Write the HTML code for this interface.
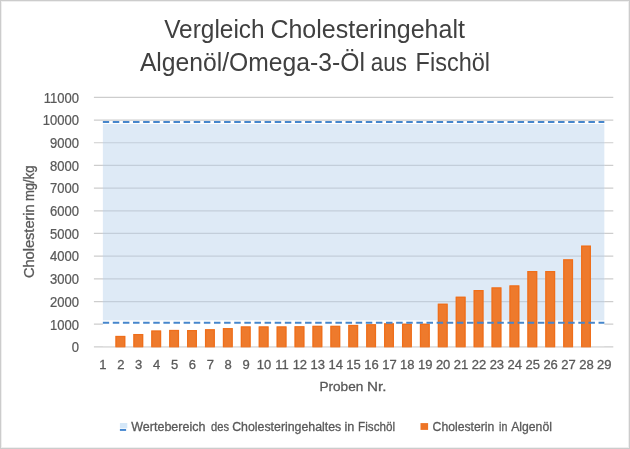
<!DOCTYPE html><html><head><meta charset="utf-8"><style>html,body{margin:0;padding:0;background:#fff;width:630px;height:449px;overflow:hidden}svg{display:block;will-change:transform;font-family:"Liberation Sans",sans-serif}</style></head><body>
<svg width="630" height="449" viewBox="0 0 630 449">
<rect x="0" y="0" width="630" height="449" fill="#fff"/>
<rect x="0.5" y="0.5" width="629" height="448" fill="none" stroke="#CCCCCC" stroke-width="1"/>
<rect x="1.5" y="1.5" width="627" height="446" fill="none" stroke="#EFEFEF" stroke-width="1"/>
<line x1="93.90" y1="346.90" x2="613.29" y2="346.90" stroke="#CDCDCD" stroke-width="1.2"/>
<line x1="93.90" y1="324.21" x2="613.29" y2="324.21" stroke="#CDCDCD" stroke-width="1.2"/>
<line x1="93.90" y1="301.53" x2="613.29" y2="301.53" stroke="#CDCDCD" stroke-width="1.2"/>
<line x1="93.90" y1="278.84" x2="613.29" y2="278.84" stroke="#CDCDCD" stroke-width="1.2"/>
<line x1="93.90" y1="256.16" x2="613.29" y2="256.16" stroke="#CDCDCD" stroke-width="1.2"/>
<line x1="93.90" y1="233.47" x2="613.29" y2="233.47" stroke="#CDCDCD" stroke-width="1.2"/>
<line x1="93.90" y1="210.79" x2="613.29" y2="210.79" stroke="#CDCDCD" stroke-width="1.2"/>
<line x1="93.90" y1="188.10" x2="613.29" y2="188.10" stroke="#CDCDCD" stroke-width="1.2"/>
<line x1="93.90" y1="165.42" x2="613.29" y2="165.42" stroke="#CDCDCD" stroke-width="1.2"/>
<line x1="93.90" y1="142.73" x2="613.29" y2="142.73" stroke="#CDCDCD" stroke-width="1.2"/>
<line x1="93.90" y1="120.05" x2="613.29" y2="120.05" stroke="#CDCDCD" stroke-width="1.2"/>
<line x1="93.90" y1="97.36" x2="613.29" y2="97.36" stroke="#CDCDCD" stroke-width="1.2"/>
<rect x="102.86" y="124.00" width="501.48" height="196.60" fill="#DEEAF6"/>
<rect x="102.86" y="320.60" width="501.48" height="25.60" fill="#FFFFFF"/>
<line x1="102.86" y1="301.53" x2="604.34" y2="301.53" stroke="#C3CEDA" stroke-width="1.2"/>
<line x1="102.86" y1="278.84" x2="604.34" y2="278.84" stroke="#C3CEDA" stroke-width="1.2"/>
<line x1="102.86" y1="256.16" x2="604.34" y2="256.16" stroke="#C3CEDA" stroke-width="1.2"/>
<line x1="102.86" y1="233.47" x2="604.34" y2="233.47" stroke="#C3CEDA" stroke-width="1.2"/>
<line x1="102.86" y1="210.79" x2="604.34" y2="210.79" stroke="#C3CEDA" stroke-width="1.2"/>
<line x1="102.86" y1="188.10" x2="604.34" y2="188.10" stroke="#C3CEDA" stroke-width="1.2"/>
<line x1="102.86" y1="165.42" x2="604.34" y2="165.42" stroke="#C3CEDA" stroke-width="1.2"/>
<line x1="102.86" y1="142.73" x2="604.34" y2="142.73" stroke="#C3CEDA" stroke-width="1.2"/>
<rect x="115.42" y="335.90" width="9.9" height="11.00" fill="#EE7A2C"/>
<rect x="116.02" y="336.50" width="8.70" height="10.40" fill="none" stroke="#F06A12" stroke-width="1.2" stroke-opacity="0.7"/>
<rect x="133.33" y="333.99" width="9.9" height="12.91" fill="#EE7A2C"/>
<rect x="133.93" y="334.59" width="8.70" height="12.31" fill="none" stroke="#F06A12" stroke-width="1.2" stroke-opacity="0.7"/>
<rect x="151.24" y="330.50" width="9.9" height="16.40" fill="#EE7A2C"/>
<rect x="151.84" y="331.10" width="8.70" height="15.80" fill="none" stroke="#F06A12" stroke-width="1.2" stroke-opacity="0.7"/>
<rect x="169.15" y="329.91" width="9.9" height="16.99" fill="#EE7A2C"/>
<rect x="169.75" y="330.51" width="8.70" height="16.39" fill="none" stroke="#F06A12" stroke-width="1.2" stroke-opacity="0.7"/>
<rect x="187.06" y="330.00" width="9.9" height="16.90" fill="#EE7A2C"/>
<rect x="187.66" y="330.60" width="8.70" height="16.30" fill="none" stroke="#F06A12" stroke-width="1.2" stroke-opacity="0.7"/>
<rect x="204.97" y="329.21" width="9.9" height="17.69" fill="#EE7A2C"/>
<rect x="205.56" y="329.81" width="8.70" height="17.09" fill="none" stroke="#F06A12" stroke-width="1.2" stroke-opacity="0.7"/>
<rect x="222.88" y="328.09" width="9.9" height="18.81" fill="#EE7A2C"/>
<rect x="223.47" y="328.69" width="8.70" height="18.21" fill="none" stroke="#F06A12" stroke-width="1.2" stroke-opacity="0.7"/>
<rect x="240.79" y="326.39" width="9.9" height="20.51" fill="#EE7A2C"/>
<rect x="241.39" y="326.99" width="8.70" height="19.91" fill="none" stroke="#F06A12" stroke-width="1.2" stroke-opacity="0.7"/>
<rect x="258.70" y="326.39" width="9.9" height="20.51" fill="#EE7A2C"/>
<rect x="259.30" y="326.99" width="8.70" height="19.91" fill="none" stroke="#F06A12" stroke-width="1.2" stroke-opacity="0.7"/>
<rect x="276.61" y="326.39" width="9.9" height="20.51" fill="#EE7A2C"/>
<rect x="277.21" y="326.99" width="8.70" height="19.91" fill="none" stroke="#F06A12" stroke-width="1.2" stroke-opacity="0.7"/>
<rect x="294.52" y="326.21" width="9.9" height="20.69" fill="#EE7A2C"/>
<rect x="295.12" y="326.81" width="8.70" height="20.09" fill="none" stroke="#F06A12" stroke-width="1.2" stroke-opacity="0.7"/>
<rect x="312.43" y="325.80" width="9.9" height="21.10" fill="#EE7A2C"/>
<rect x="313.03" y="326.40" width="8.70" height="20.50" fill="none" stroke="#F06A12" stroke-width="1.2" stroke-opacity="0.7"/>
<rect x="330.34" y="325.80" width="9.9" height="21.10" fill="#EE7A2C"/>
<rect x="330.94" y="326.40" width="8.70" height="20.50" fill="none" stroke="#F06A12" stroke-width="1.2" stroke-opacity="0.7"/>
<rect x="348.25" y="324.90" width="9.9" height="22.00" fill="#EE7A2C"/>
<rect x="348.85" y="325.50" width="8.70" height="21.40" fill="none" stroke="#F06A12" stroke-width="1.2" stroke-opacity="0.7"/>
<rect x="366.16" y="324.19" width="9.9" height="22.71" fill="#EE7A2C"/>
<rect x="366.76" y="324.79" width="8.70" height="22.11" fill="none" stroke="#F06A12" stroke-width="1.2" stroke-opacity="0.7"/>
<rect x="384.06" y="323.31" width="9.9" height="23.59" fill="#EE7A2C"/>
<rect x="384.67" y="323.91" width="8.70" height="22.99" fill="none" stroke="#F06A12" stroke-width="1.2" stroke-opacity="0.7"/>
<rect x="401.98" y="323.69" width="9.9" height="23.21" fill="#EE7A2C"/>
<rect x="402.58" y="324.29" width="8.70" height="22.61" fill="none" stroke="#F06A12" stroke-width="1.2" stroke-opacity="0.7"/>
<rect x="419.89" y="323.69" width="9.9" height="23.21" fill="#EE7A2C"/>
<rect x="420.49" y="324.29" width="8.70" height="22.61" fill="none" stroke="#F06A12" stroke-width="1.2" stroke-opacity="0.7"/>
<rect x="437.80" y="303.71" width="9.9" height="43.19" fill="#EE7A2C"/>
<rect x="438.40" y="304.31" width="8.70" height="42.59" fill="none" stroke="#F06A12" stroke-width="1.2" stroke-opacity="0.7"/>
<rect x="455.71" y="296.70" width="9.9" height="50.20" fill="#EE7A2C"/>
<rect x="456.31" y="297.30" width="8.70" height="49.60" fill="none" stroke="#F06A12" stroke-width="1.2" stroke-opacity="0.7"/>
<rect x="473.62" y="290.01" width="9.9" height="56.89" fill="#EE7A2C"/>
<rect x="474.22" y="290.61" width="8.70" height="56.29" fill="none" stroke="#F06A12" stroke-width="1.2" stroke-opacity="0.7"/>
<rect x="491.53" y="287.40" width="9.9" height="59.50" fill="#EE7A2C"/>
<rect x="492.13" y="288.00" width="8.70" height="58.90" fill="none" stroke="#F06A12" stroke-width="1.2" stroke-opacity="0.7"/>
<rect x="509.44" y="285.40" width="9.9" height="61.50" fill="#EE7A2C"/>
<rect x="510.04" y="286.00" width="8.70" height="60.90" fill="none" stroke="#F06A12" stroke-width="1.2" stroke-opacity="0.7"/>
<rect x="527.35" y="271.00" width="9.9" height="75.90" fill="#EE7A2C"/>
<rect x="527.95" y="271.60" width="8.70" height="75.30" fill="none" stroke="#F06A12" stroke-width="1.2" stroke-opacity="0.7"/>
<rect x="545.25" y="271.00" width="9.9" height="75.90" fill="#EE7A2C"/>
<rect x="545.86" y="271.60" width="8.70" height="75.30" fill="none" stroke="#F06A12" stroke-width="1.2" stroke-opacity="0.7"/>
<rect x="563.16" y="259.29" width="9.9" height="87.61" fill="#EE7A2C"/>
<rect x="563.76" y="259.89" width="8.70" height="87.01" fill="none" stroke="#F06A12" stroke-width="1.2" stroke-opacity="0.7"/>
<rect x="581.07" y="245.61" width="9.9" height="101.29" fill="#EE7A2C"/>
<rect x="581.67" y="246.21" width="8.70" height="100.69" fill="none" stroke="#F06A12" stroke-width="1.2" stroke-opacity="0.7"/>
<line x1="102.86" y1="122.00" x2="604.34" y2="122.00" stroke="#4686CC" stroke-width="2" stroke-dasharray="6.5 3.62" stroke-dashoffset="0.2"/>
<line x1="102.86" y1="322.70" x2="604.34" y2="322.70" stroke="#4686CC" stroke-width="2" stroke-dasharray="6.5 3.62" stroke-dashoffset="0.2"/>
<text x="164.20" y="38.20" font-size="25" fill="#404040" textLength="100.44" lengthAdjust="spacingAndGlyphs" >Vergleich</text>
<text x="270.40" y="38.20" font-size="25" fill="#404040" textLength="194.51" lengthAdjust="spacingAndGlyphs" >Cholesteringehalt</text>
<text x="139.90" y="70.60" font-size="25" fill="#404040" textLength="225.00" lengthAdjust="spacingAndGlyphs" >Algenöl/Omega-3-Öl</text>
<text x="370.80" y="70.60" font-size="25" fill="#404040" textLength="36.06" lengthAdjust="spacingAndGlyphs" >aus</text>
<text x="415.60" y="70.60" font-size="25" fill="#404040" textLength="74.38" lengthAdjust="spacingAndGlyphs" >Fischöl</text>
<text x="319.50" y="391.00" font-size="13" fill="#595959" textLength="43.74" lengthAdjust="spacingAndGlyphs" stroke="#595959" stroke-width="0.3">Proben</text>
<text x="367.00" y="391.00" font-size="13" fill="#595959" textLength="19.44" lengthAdjust="spacingAndGlyphs" stroke="#595959" stroke-width="0.3">Nr.</text>
<text x="131.30" y="430.60" font-size="12.5" fill="#595959" textLength="74.13" lengthAdjust="spacingAndGlyphs" stroke="#595959" stroke-width="0.3">Wertebereich</text>
<text x="211.00" y="430.60" font-size="12.5" fill="#595959" textLength="18.00" lengthAdjust="spacingAndGlyphs" stroke="#595959" stroke-width="0.3">des</text>
<text x="232.20" y="430.60" font-size="12.5" fill="#595959" textLength="109.10" lengthAdjust="spacingAndGlyphs" stroke="#595959" stroke-width="0.3">Cholesteringehaltes</text>
<text x="344.40" y="430.60" font-size="12.5" fill="#595959" textLength="9.87" lengthAdjust="spacingAndGlyphs" stroke="#595959" stroke-width="0.3">in</text>
<text x="358.10" y="430.60" font-size="12.5" fill="#595959" textLength="36.94" lengthAdjust="spacingAndGlyphs" stroke="#595959" stroke-width="0.3">Fischöl</text>
<text x="432.60" y="430.60" font-size="12.5" fill="#595959" textLength="61.75" lengthAdjust="spacingAndGlyphs" stroke="#595959" stroke-width="0.3">Cholesterin</text>
<text x="499.10" y="430.60" font-size="12.5" fill="#595959" textLength="8.25" lengthAdjust="spacingAndGlyphs" stroke="#595959" stroke-width="0.3">in</text>
<text x="511.20" y="430.60" font-size="12.5" fill="#595959" textLength="40.73" lengthAdjust="spacingAndGlyphs" stroke="#595959" stroke-width="0.3">Algenöl</text>
<text transform="translate(33.50,278.10) rotate(-90)" font-size="13.8" fill="#595959" textLength="73.82" lengthAdjust="spacingAndGlyphs" stroke="#595959" stroke-width="0.3">Cholesterin</text>
<text transform="translate(33.50,201.00) rotate(-90)" font-size="13.8" fill="#595959" textLength="35.53" lengthAdjust="spacingAndGlyphs" stroke="#595959" stroke-width="0.3">mg/kg</text>
<text transform="translate(78.9,352.20) scale(0.93,1)" font-size="14" fill="#595959" stroke="#595959" stroke-width="0.25" text-anchor="end">0</text>
<text transform="translate(78.9,329.51) scale(0.93,1)" font-size="14" fill="#595959" stroke="#595959" stroke-width="0.25" text-anchor="end">1000</text>
<text transform="translate(78.9,306.83) scale(0.93,1)" font-size="14" fill="#595959" stroke="#595959" stroke-width="0.25" text-anchor="end">2000</text>
<text transform="translate(78.9,284.14) scale(0.93,1)" font-size="14" fill="#595959" stroke="#595959" stroke-width="0.25" text-anchor="end">3000</text>
<text transform="translate(78.9,261.46) scale(0.93,1)" font-size="14" fill="#595959" stroke="#595959" stroke-width="0.25" text-anchor="end">4000</text>
<text transform="translate(78.9,238.77) scale(0.93,1)" font-size="14" fill="#595959" stroke="#595959" stroke-width="0.25" text-anchor="end">5000</text>
<text transform="translate(78.9,216.09) scale(0.93,1)" font-size="14" fill="#595959" stroke="#595959" stroke-width="0.25" text-anchor="end">6000</text>
<text transform="translate(78.9,193.40) scale(0.93,1)" font-size="14" fill="#595959" stroke="#595959" stroke-width="0.25" text-anchor="end">7000</text>
<text transform="translate(78.9,170.72) scale(0.93,1)" font-size="14" fill="#595959" stroke="#595959" stroke-width="0.25" text-anchor="end">8000</text>
<text transform="translate(78.9,148.03) scale(0.93,1)" font-size="14" fill="#595959" stroke="#595959" stroke-width="0.25" text-anchor="end">9000</text>
<text transform="translate(78.9,125.35) scale(0.93,1)" font-size="14" fill="#595959" stroke="#595959" stroke-width="0.25" text-anchor="end">10000</text>
<text transform="translate(78.9,102.66) scale(0.93,1)" font-size="14" fill="#595959" stroke="#595959" stroke-width="0.25" text-anchor="end">11000</text>
<text x="102.86" y="369" font-size="13" fill="#595959" stroke="#595959" stroke-width="0.3" text-anchor="middle">1</text>
<text x="120.77" y="369" font-size="13" fill="#595959" stroke="#595959" stroke-width="0.3" text-anchor="middle">2</text>
<text x="138.68" y="369" font-size="13" fill="#595959" stroke="#595959" stroke-width="0.3" text-anchor="middle">3</text>
<text x="156.59" y="369" font-size="13" fill="#595959" stroke="#595959" stroke-width="0.3" text-anchor="middle">4</text>
<text x="174.50" y="369" font-size="13" fill="#595959" stroke="#595959" stroke-width="0.3" text-anchor="middle">5</text>
<text x="192.41" y="369" font-size="13" fill="#595959" stroke="#595959" stroke-width="0.3" text-anchor="middle">6</text>
<text x="210.31" y="369" font-size="13" fill="#595959" stroke="#595959" stroke-width="0.3" text-anchor="middle">7</text>
<text x="228.22" y="369" font-size="13" fill="#595959" stroke="#595959" stroke-width="0.3" text-anchor="middle">8</text>
<text x="246.14" y="369" font-size="13" fill="#595959" stroke="#595959" stroke-width="0.3" text-anchor="middle">9</text>
<text x="264.05" y="369" font-size="13" fill="#595959" stroke="#595959" stroke-width="0.3" text-anchor="middle">10</text>
<text x="281.96" y="369" font-size="13" fill="#595959" stroke="#595959" stroke-width="0.3" text-anchor="middle">11</text>
<text x="299.87" y="369" font-size="13" fill="#595959" stroke="#595959" stroke-width="0.3" text-anchor="middle">12</text>
<text x="317.77" y="369" font-size="13" fill="#595959" stroke="#595959" stroke-width="0.3" text-anchor="middle">13</text>
<text x="335.69" y="369" font-size="13" fill="#595959" stroke="#595959" stroke-width="0.3" text-anchor="middle">14</text>
<text x="353.60" y="369" font-size="13" fill="#595959" stroke="#595959" stroke-width="0.3" text-anchor="middle">15</text>
<text x="371.50" y="369" font-size="13" fill="#595959" stroke="#595959" stroke-width="0.3" text-anchor="middle">16</text>
<text x="389.41" y="369" font-size="13" fill="#595959" stroke="#595959" stroke-width="0.3" text-anchor="middle">17</text>
<text x="407.33" y="369" font-size="13" fill="#595959" stroke="#595959" stroke-width="0.3" text-anchor="middle">18</text>
<text x="425.24" y="369" font-size="13" fill="#595959" stroke="#595959" stroke-width="0.3" text-anchor="middle">19</text>
<text x="443.14" y="369" font-size="13" fill="#595959" stroke="#595959" stroke-width="0.3" text-anchor="middle">20</text>
<text x="461.06" y="369" font-size="13" fill="#595959" stroke="#595959" stroke-width="0.3" text-anchor="middle">21</text>
<text x="478.97" y="369" font-size="13" fill="#595959" stroke="#595959" stroke-width="0.3" text-anchor="middle">22</text>
<text x="496.88" y="369" font-size="13" fill="#595959" stroke="#595959" stroke-width="0.3" text-anchor="middle">23</text>
<text x="514.78" y="369" font-size="13" fill="#595959" stroke="#595959" stroke-width="0.3" text-anchor="middle">24</text>
<text x="532.70" y="369" font-size="13" fill="#595959" stroke="#595959" stroke-width="0.3" text-anchor="middle">25</text>
<text x="550.61" y="369" font-size="13" fill="#595959" stroke="#595959" stroke-width="0.3" text-anchor="middle">26</text>
<text x="568.51" y="369" font-size="13" fill="#595959" stroke="#595959" stroke-width="0.3" text-anchor="middle">27</text>
<text x="586.42" y="369" font-size="13" fill="#595959" stroke="#595959" stroke-width="0.3" text-anchor="middle">28</text>
<text x="604.34" y="369" font-size="13" fill="#595959" stroke="#595959" stroke-width="0.3" text-anchor="middle">29</text>
<rect x="119.9" y="423" width="7.4" height="5.4" fill="#D4E7F8"/>
<rect x="119.9" y="429" width="6.2" height="1.9" fill="#4386D0"/>
<rect x="420.5" y="423.1" width="7.6" height="6.8" fill="#EE7425"/>
</svg></body></html>
